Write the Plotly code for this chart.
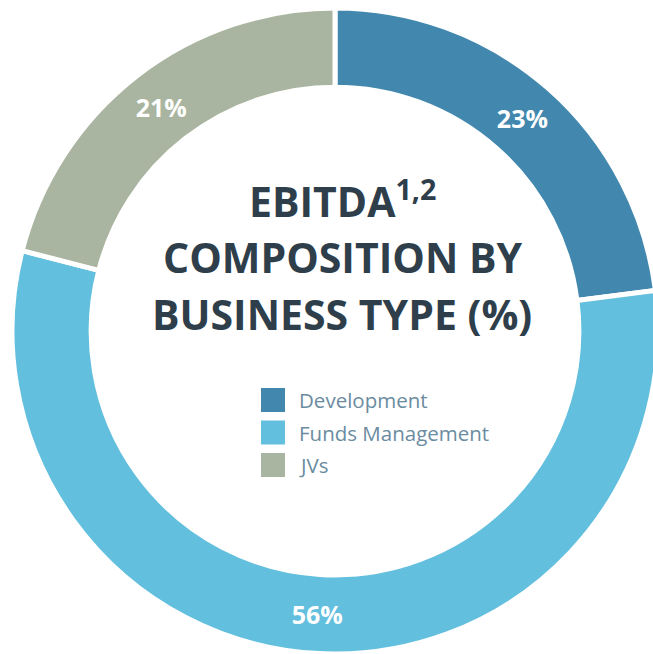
import plotly.graph_objects as go

categories = ["Development", "Funds Management", "JVs"]
values = [23, 56, 21]
colors = ["#4187AE", "#63BFDE", "#A9B5A0"]
title_lines = ["<b>EBITDA<sup>1,2</sup></b>", "<b>COMPOSITION BY</b>", "<b>BUSINESS TYPE (%)</b>"]

W, H = 658, 654
ML, MT = 12, 8
PW, PH = W - ML, H - MT


def px(x):
    return (x - ML) / PW


def py(y):
    return 1 - (y - MT) / PH


fig = go.Figure(go.Pie(
    labels=categories,
    values=values,
    hole=0.755,
    sort=False,
    direction="clockwise",
    rotation=0,
    marker=dict(colors=colors, line=dict(color="white", width=5)),
    texttemplate="<b>%{value}%</b>",
    textposition="inside",
    insidetextorientation="horizontal",
    textfont=dict(family="Open Sans", size=25, color="white"),
    showlegend=False,
    hoverinfo="label+percent",
))

annotations = []
for line, ycen in zip(title_lines, [199, 257, 314]):
    annotations.append(dict(
        text=line, x=px(342), y=py(ycen), xref="paper", yref="paper",
        xanchor="center", yanchor="middle", showarrow=False,
        font=dict(family="Open Sans", size=41, color="#2E3E4A"),
    ))

shapes = []
for i, (cat, col) in enumerate(zip(categories, colors)):
    top = 388 + i * 32.5
    shapes.append(dict(
        type="rect", xref="paper", yref="paper",
        x0=px(261), x1=px(285), y0=py(top), y1=py(top + 24),
        fillcolor=col, line=dict(width=0),
    ))
    annotations.append(dict(
        text=cat, x=px(297), y=py(top + 12), xref="paper", yref="paper",
        xanchor="left", yanchor="middle", showarrow=False,
        font=dict(family="Open Sans", size=20.5, color="#6B8CA0"),
    ))

fig.update_layout(
    width=W, height=H,
    margin=dict(l=ML, r=0, t=MT, b=0),
    paper_bgcolor="white", plot_bgcolor="white",
    annotations=annotations, shapes=shapes,
)

fig.write_html(
    "out.html",
    post_script="document.documentElement.style.overflow='hidden';document.body.style.overflow='hidden';document.body.style.margin='0';",
)
